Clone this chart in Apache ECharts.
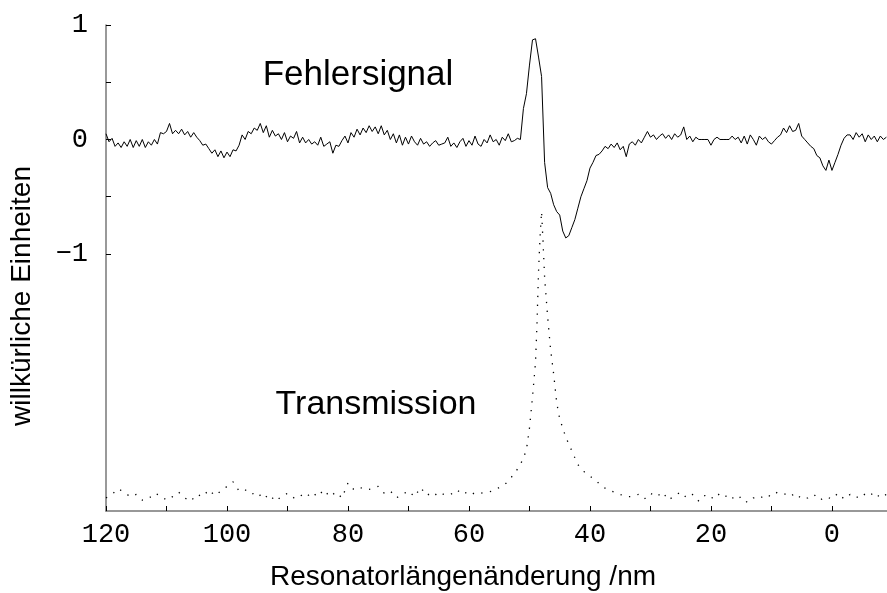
<!DOCTYPE html>
<html><head><meta charset="utf-8">
<script src="https://cdn.jsdelivr.net/npm/echarts@6/dist/echarts.min.js"></script>
<style>html,body{margin:0;padding:0;background:#fff}#c{width:887px;height:593px}</style>
</head><body><div id="c"></div>
<script>
// Fehlersignal sampled every 0.5 nm from 120 nm down to -9 nm
const errStart = 120;
const errStep = -0.5;
const errY = [
  0.05,-0.02,0.01,-0.06,-0.03,-0.07,-0.02,-0.06,0.0,-0.07,-0.01,-0.06,0.0,-0.07,-0.02,-0.05,0.0,-0.04,
  0.06,0.05,0.07,0.14,0.05,0.08,0.05,0.09,0.04,0.07,0.02,0.06,
  0.02,-0.01,-0.05,-0.04,-0.08,
  -0.12,-0.09,-0.15,-0.1,-0.16,-0.11,-0.15,-0.09,-0.1,
  -0.05,0.04,0.0,
  0.07,0.05,0.1,0.08,0.14,0.06,0.12,0.02,
  0.08,0.03,0.05,0.0,0.06,-0.02,0.03,0.01,0.07,-0.03,0.02,-0.03,
  0.0,-0.04,-0.02,-0.05,0.02,-0.06,-0.04,-0.02,-0.12,-0.05,
  -0.06,-0.01,0.03,-0.03,0.06,0.02,0.09,0.04,
  0.1,0.06,0.12,0.07,0.11,0.05,0.12,0.04,
  0.08,0.0,0.05,-0.03,0.04,-0.05,0.02,-0.04,0.03,-0.02,-0.05,0.01,-0.04,-0.02,-0.06,-0.03,-0.01,-0.05,-0.04,-0.03,0.02,-0.06,
  -0.03,-0.07,-0.02,0.01,-0.06,-0.01,-0.05,0.03,-0.04,-0.06,0.0,-0.03,0.04,-0.02,0.0,-0.05,0.02,-0.01,0.05,-0.02,-0.01,0.01,
  0.0,0.27,0.4,0.65,0.87,0.88,0.72,0.55,-0.2,-0.42,-0.47,-0.57,-0.63,-0.66,-0.8,-0.86,-0.84,-0.77,-0.7,-0.6,-0.5,-0.43,-0.36,-0.25,-0.2,-0.14,-0.13,-0.1,-0.06,-0.08,
  -0.04,-0.07,-0.03,-0.09,-0.06,
  -0.15,-0.04,-0.02,-0.05,0.0,-0.03,0.02,
  0.07,0.02,0.04,0.0,0.03,0.05,0.01,0.04,0.0,0.05,0.02,0.04,
  0.11,0.0,0.03,-0.02,0.02,0.0,
  0.0,0.0,0.0,-0.05,0.0,0.02,0.0,0.0,0.0,0.0,0.03,0.0,0.02,-0.03,
  0.03,-0.04,0.04,0.0,-0.05,0.03,0.0,0.02,-0.02,-0.04,-0.01,0.02,
  0.04,0.1,0.06,0.12,0.07,0.08,
  0.14,0.03,0.0,-0.03,-0.06,-0.08,-0.14,-0.16,-0.23,-0.27,-0.18,-0.27,-0.2,-0.13,-0.05,0.01,0.04,
  0.04,0.0,0.06,0.02,0.05,-0.02,0.04,0.0,0.03,-0.02,0.03,0.0,0.02
];

// Transmission
const transX = [
  120,119,118,117,116,115,114,113,112,111,110,109,108,107,106,105,104,103,102,101,
  100,99,98,97,96,95,94,93,92,91,90,89,88,87,86,85,84,83,82,81,
  80,79,78,77,76,75,74,73,72,71,70,69,68,67,66,65,64,63,62,61,60,59,58,
  57,56,55,54,53,52.5,52,51.5,51,50.5,50,49.5,49,48.75,48.5,48.25,48,47.75,47.5,47,46.5,46,45.5,45,
  44,43,42,41,40,39,38,37,36,35,34,
  33,32,31,30,29,28,27,26,25,24,23,22,21,20,19,18,17,16,15,14,13,12,11,10,
  9,8,7,6,5,4,3,2,1,0,-1,-2,-3,-4,-5,-6,-7,-8,-9
];
const transY = [
  -3.13,-3.1,-3.05,-3.08,-3.12,-3.1,-3.15,-3.14,-3.09,-3.11,-3.15,-3.12,-3.08,-3.13,-3.16,-3.1,-3.12,-3.06,-3.11,-3.07,
  -3.03,-2.99,-3.07,-3.06,-3.1,-3.08,-3.14,-3.1,-3.16,-3.12,-3.09,-3.13,-3.1,-3.13,-3.08,-3.12,-3.06,-3.12,-3.08,-3.13,
  -3.0,-3.06,-3.04,-3.06,-3.05,-3.03,-3.09,-3.07,-3.13,-3.1,-3.07,-3.12,-3.04,-3.11,-3.08,-3.12,-3.09,-3.1,-3.06,-3.1,-3.07,-3.1,-3.09,
  -3.08,-3.07,-3.04,-3.01,-2.95,-2.92,-2.88,-2.84,-2.78,-2.71,-2.52,-2.25,-1.95,-1.6,-1.15,-0.85,-0.63,-0.9,-1.2,-1.55,-1.84,-2.05,-2.3,-2.44,
  -2.6,-2.72,-2.84,-2.9,-2.94,-2.98,-3.03,-3.06,-3.08,-3.1,-3.12,
  -3.12,-3.1,-3.14,-3.09,-3.12,-3.08,-3.15,-3.11,-3.08,-3.13,-3.1,-3.16,-3.11,-3.14,-3.09,-3.13,-3.1,-3.15,-3.12,-3.17,-3.13,-3.14,-3.1,-3.12,
  -3.08,-3.09,-3.12,-3.09,-3.14,-3.13,-3.1,-3.15,-3.12,-3.14,-3.09,-3.14,-3.1,-3.13,-3.09,-3.12,-3.08,-3.13,-3.1
];

const xTicks = [120,110,100,90,80,70,60,50,40,30,20,10,0];
const xLabels = [120,100,80,60,40,20,0];
const yTicks = [1,0.5,0,-0.5,-1];
const yLabels = [1,0,-1];

const errData = errY.map((v,i) => [errStart + i*errStep, v]);
const transData = transX.map((x,i) => [x, transY[i]]);

const chart = echarts.init(document.getElementById('c'), null, {renderer:'canvas'});
chart.setOption({
  animation: false,
  backgroundColor: '#fff',
  grid: {left: 106, right: 0, top: 25, bottom: 82, containLabel: false},
  xAxis: {
    type: 'value', inverse: true, min: -9.1, max: 120,
    axisLine: {show: true, onZero: false, lineStyle: {color: '#777', width: 1.5}},
    axisTick: {show: true, inside: true, length: 5, customValues: xTicks, lineStyle: {color: '#000', width: 1}},
    axisLabel: {customValues: xLabels, margin: 10, color: '#000', fontFamily: 'Liberation Mono', fontSize: 27},
    splitLine: {show: false}
  },
  yAxis: {
    type: 'value', min: -3.245, max: 1,
    axisLine: {show: true, onZero: false, lineStyle: {color: '#777', width: 1.5}},
    axisTick: {show: true, inside: true, length: 5, customValues: yTicks, lineStyle: {color: '#000', width: 1}},
    axisLabel: {customValues: yLabels, margin: 18, color: '#000', fontFamily: 'Liberation Mono', fontSize: 27,
      formatter: v => v < 0 ? '\u2212' + (-v) : String(v)},
    splitLine: {show: false}
  },
  series: [
    {name: 'Fehlersignal', type: 'line', data: errData, showSymbol: false, symbol: 'none',
     lineStyle: {color: '#000', width: 1}},
    {name: 'Transmission', type: 'line', data: transData, showSymbol: false, symbol: 'none',
     lineStyle: {color: '#000', width: 1.3, type: [1.3, 7.5]}}
  ],
  graphic: [
    {type: 'text', x: 358, y: 75, style: {text: 'Fehlersignal', font: '35px "Liberation Sans"', fill: '#000', align: 'center', verticalAlign: 'middle'}},
    {type: 'text', x: 376, y: 405, style: {text: 'Transmission', font: '34px "Liberation Sans"', fill: '#000', align: 'center', verticalAlign: 'middle'}},
    {type: 'text', x: 463, y: 577, style: {text: 'Resonatorlängenänderung /nm', font: '28px "Liberation Sans"', fill: '#000', align: 'center', verticalAlign: 'middle'}},
    {type: 'text', x: 22, y: 296, rotation: Math.PI/2, style: {text: 'willkürliche Einheiten', font: '28px "Liberation Sans"', fill: '#000', align: 'center', verticalAlign: 'middle'}}
  ]
});
</script></body></html>
